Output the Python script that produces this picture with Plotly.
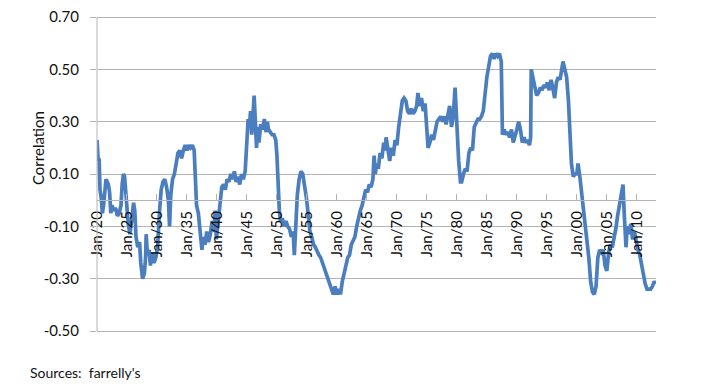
import plotly.graph_objects as go

years = [
    1920.0, 1920.1, 1920.2, 1920.35, 1920.5, 1920.7, 1920.9, 1921.1, 1921.3, 1921.5, 1921.7, 1921.9,
    1922.1, 1922.3, 1922.5, 1922.8, 1923.1, 1923.4, 1923.7, 1924.0, 1924.2, 1924.4, 1924.6, 1924.8,
    1925.0, 1925.2, 1925.5, 1925.8, 1926.1, 1926.3, 1926.5, 1926.8, 1927.1, 1927.3, 1927.6, 1927.9,
    1928.1, 1928.2, 1928.4, 1928.7, 1928.9, 1929.2, 1929.5, 1929.8, 1930.1, 1930.4, 1930.7, 1931.0,
    1931.3, 1931.6, 1931.9, 1932.1, 1932.3, 1932.6, 1932.9, 1933.2, 1933.5, 1933.8, 1934.1, 1934.4,
    1934.7, 1935.0, 1935.3, 1935.6, 1935.9, 1936.2, 1936.4, 1936.6, 1936.9, 1937.1, 1937.3, 1937.5,
    1937.7, 1938.0, 1938.3, 1938.6, 1938.9, 1939.2, 1939.5, 1939.7, 1939.9, 1940.2, 1940.5, 1940.8,
    1941.1, 1941.4, 1941.7, 1942.0, 1942.3, 1942.6, 1942.9, 1943.2, 1943.5, 1943.8, 1944.1, 1944.4,
    1944.7, 1945.0, 1945.2, 1945.4, 1945.6, 1945.8, 1946.0, 1946.2, 1946.4, 1946.6, 1946.8, 1947.0,
    1947.3, 1947.6, 1947.9, 1948.2, 1948.4, 1948.6, 1948.9, 1949.2, 1949.5, 1949.8, 1950.0, 1950.2,
    1950.4, 1950.6, 1950.9, 1951.2, 1951.5, 1951.8, 1952.1, 1952.4, 1952.7, 1952.9, 1953.1, 1953.4,
    1953.7, 1954.0, 1954.3, 1954.6, 1954.9, 1955.2, 1955.5, 1955.8, 1956.1, 1956.4, 1956.7, 1957.0,
    1957.3, 1957.6, 1957.9, 1958.2, 1958.5, 1958.8, 1959.1, 1959.4, 1959.7, 1960.0, 1960.3, 1960.6,
    1960.9, 1961.2, 1961.5, 1961.8, 1962.1, 1962.4, 1962.7, 1963.0, 1963.3, 1963.6, 1963.9, 1964.2,
    1964.5, 1964.8, 1965.1, 1965.4, 1965.7, 1966.0, 1966.2, 1966.4, 1966.6, 1966.9, 1967.2, 1967.5,
    1967.8, 1968.0, 1968.2, 1968.5, 1968.8, 1969.1, 1969.4, 1969.7, 1970.0, 1970.3, 1970.6, 1970.9,
    1971.2, 1971.5, 1971.8, 1972.1, 1972.4, 1972.7, 1973.0, 1973.3, 1973.5, 1973.8, 1974.1, 1974.4,
    1974.7, 1975.0, 1975.2, 1975.5, 1975.8, 1976.1, 1976.4, 1976.7, 1977.0, 1977.3, 1977.6, 1977.9,
    1978.2, 1978.5, 1978.8, 1979.1, 1979.4, 1979.7, 1979.9, 1980.1, 1980.3, 1980.6, 1980.8, 1981.1,
    1981.4, 1981.7, 1982.0, 1982.3, 1982.6, 1982.9, 1983.2, 1983.5, 1983.8, 1984.1, 1984.4, 1984.7,
    1985.0, 1985.3, 1985.6, 1985.9, 1986.2, 1986.5, 1986.8, 1987.1, 1987.4, 1987.6, 1987.9, 1988.2,
    1988.5, 1988.8, 1989.1, 1989.4, 1989.7, 1990.0, 1990.3, 1990.6, 1990.9, 1991.2, 1991.5, 1991.8,
    1992.1, 1992.3, 1992.4, 1992.7, 1993.0, 1993.3, 1993.6, 1993.9, 1994.2, 1994.5, 1994.8, 1995.1,
    1995.4, 1995.7, 1996.0, 1996.3, 1996.6, 1996.9, 1997.2, 1997.5, 1997.7, 1998.0, 1998.3, 1998.6,
    1998.9, 1999.1, 1999.4, 1999.7, 2000.0, 2000.2, 2000.5, 2000.8, 2001.1, 2001.4, 2001.7, 2002.0,
    2002.3, 2002.6, 2002.9, 2003.2, 2003.5, 2003.8, 2004.1, 2004.4, 2004.7, 2005.0, 2005.3, 2005.6,
    2005.9, 2006.2, 2006.5, 2006.8, 2007.1, 2007.4, 2007.7, 2007.9, 2008.2, 2008.4, 2008.7, 2009.0,
    2009.3, 2009.6, 2009.9, 2010.2, 2010.5, 2010.8, 2011.1, 2011.4, 2011.7, 2012.0, 2012.3, 2012.6,
    2012.9, 2013.1,
]

correlation = [
    0.23, 0.19, 0.15, 0.16, 0.04, 0.01, -0.05, -0.02, 0.05, 0.08, 0.07, 0.06,
    0.03, -0.05, -0.02, -0.04, -0.03, -0.06, -0.05, -0.02, 0.06, 0.10, 0.09, 0.02,
    -0.06, -0.09, -0.13, -0.08, -0.01, -0.04, -0.14, -0.18, -0.16, -0.24, -0.30, -0.28,
    -0.22, -0.13, -0.21, -0.19, -0.25, -0.20, -0.24, -0.22, -0.18, -0.05, 0.04, 0.07,
    0.08, 0.05, 0.00, -0.10, 0.02, 0.08, 0.10, 0.14, 0.18, 0.19, 0.16, 0.19,
    0.21, 0.19, 0.21, 0.20, 0.21, 0.19, 0.04, -0.02, -0.05, -0.10, -0.15, -0.19,
    -0.14, -0.17, -0.12, -0.16, -0.13, -0.08, -0.12, -0.04, -0.15, -0.08, 0.00, 0.05,
    0.06, 0.04, 0.08, 0.07, 0.10, 0.08, 0.11, 0.07, 0.09, 0.06, 0.10, 0.08,
    0.11, 0.22, 0.31, 0.28, 0.34, 0.25, 0.33, 0.40, 0.30, 0.20, 0.28, 0.22,
    0.29, 0.27, 0.31, 0.26, 0.30, 0.27, 0.26, 0.25, 0.25, 0.23, 0.17, 0.05,
    -0.04, -0.08, -0.07, -0.10, -0.08, -0.10, -0.11, -0.14, -0.12, -0.21, -0.10, 0.02,
    0.08, 0.11, 0.10, 0.06, 0.01, -0.05, -0.12, -0.14, -0.17, -0.18, -0.20, -0.21,
    -0.22, -0.24, -0.26, -0.28, -0.30, -0.33, -0.35, -0.36, -0.33, -0.36, -0.34, -0.36,
    -0.31, -0.27, -0.25, -0.22, -0.21, -0.17, -0.15, -0.14, -0.10, -0.06, -0.04, -0.02,
    0.02, 0.04, 0.03, 0.06, 0.05, 0.08, 0.17, 0.10, 0.14, 0.12, 0.18, 0.16,
    0.22, 0.19, 0.24, 0.18, 0.15, 0.20, 0.17, 0.23, 0.21, 0.28, 0.33, 0.38,
    0.39, 0.38, 0.34, 0.33, 0.35, 0.33, 0.34, 0.36, 0.41, 0.36, 0.39, 0.34,
    0.37, 0.28, 0.20, 0.22, 0.25, 0.23, 0.26, 0.30, 0.31, 0.32, 0.30, 0.32,
    0.29, 0.33, 0.36, 0.28, 0.32, 0.43, 0.32, 0.25, 0.15, 0.07, 0.07, 0.10,
    0.12, 0.11, 0.18, 0.20, 0.19, 0.28, 0.30, 0.31, 0.31, 0.32, 0.34, 0.41,
    0.47, 0.51, 0.55, 0.56, 0.54, 0.56, 0.55, 0.56, 0.53, 0.25, 0.27, 0.25,
    0.26, 0.24, 0.27, 0.22, 0.24, 0.27, 0.30, 0.27, 0.22, 0.24, 0.22, 0.23,
    0.21, 0.24, 0.50, 0.46, 0.44, 0.40, 0.41, 0.43, 0.42, 0.44, 0.43, 0.45,
    0.42, 0.46, 0.43, 0.39, 0.45, 0.47, 0.46, 0.50, 0.53, 0.50, 0.47, 0.38,
    0.22, 0.14, 0.09, 0.10, 0.10, 0.14, 0.09, 0.03, -0.03, -0.09, -0.15, -0.22,
    -0.31, -0.35, -0.36, -0.33, -0.22, -0.19, -0.20, -0.19, -0.25, -0.27, -0.20, -0.17,
    -0.18, -0.15, -0.11, -0.06, -0.02, 0.03, 0.06, -0.05, -0.18, -0.10, -0.13, -0.09,
    -0.15, -0.12, -0.16, -0.19, -0.21, -0.25, -0.27, -0.32, -0.34, -0.34, -0.34, -0.33,
    -0.31, -0.32,
]

tick_years = [1920, 1925, 1930, 1935, 1940, 1945, 1950, 1955, 1960, 1965,
              1970, 1975, 1980, 1985, 1990, 1995, 2000, 2005, 2010]
tick_labels = ["Jan/%02d" % (y % 100) for y in tick_years]

y_ticks = [-0.50, -0.30, -0.10, 0.10, 0.30, 0.50, 0.70]
y_labels = ["%.2f" % v for v in y_ticks]

y_min, y_max = -0.5, 0.7
grid_col = "#b4b4b4"
font_family = "Lato, 'Open Sans', sans-serif"

# page body has an 8px default margin; size the figure so the gridlines
# 0.70 / -0.50 land at y 17 / 331 and the plot spans x 97..656
fig_w, fig_h = 690, 375
off = 8
grid_top, grid_bot = 17, 331
pad_px = 2
plot_l, plot_r = 97, 656
plot_t, plot_b = grid_top - pad_px, grid_bot + pad_px
pw, ph = plot_r - plot_l, plot_b - plot_t
units_per_px = (y_max - y_min) / (grid_bot - grid_top)
r_lo = y_min - pad_px * units_per_px
r_hi = y_max + pad_px * units_per_px

fig = go.Figure()
fig.add_trace(go.Scatter(
    x=years, y=correlation, mode="lines",
    line=dict(color="#4a7ebf", width=3.7),
    hoverinfo="skip", showlegend=False,
))

fig.update_layout(
    width=fig_w, height=fig_h,
    margin=dict(l=plot_l - off, r=fig_w + off - plot_r, t=plot_t - off,
                b=fig_h + off - plot_b, pad=0),
    paper_bgcolor="white", plot_bgcolor="white",
    font=dict(family=font_family, size=15, color="#222222"),
    xaxis=dict(
        range=[1920, 2013.2],
        tickvals=tick_years, ticktext=tick_labels,
        tickangle=-90,
        ticks="inside", ticklen=6, tickcolor=grid_col, tickwidth=1,
        showgrid=False, zeroline=False,
        showline=True, linecolor=grid_col, linewidth=1,
        anchor="free", position=(0 - r_lo) / (r_hi - r_lo),
        tickfont=dict(size=15, color="#111111"),
        ticklabelstandoff=4,
        ticklabeloverflow="allow",
        automargin=False,
    ),
    yaxis=dict(
        range=[r_lo, r_hi],
        tickvals=y_ticks, ticktext=y_labels,
        showgrid=True, gridcolor=grid_col, gridwidth=1,
        zeroline=False,
        showline=False,
        ticks="outside", ticklen=6, tickcolor=grid_col,
        tickfont=dict(size=15, color="#111111"),
        ticklabelstandoff=8,
        ticklabeloverflow="allow",
        automargin=False,
    ),
    shapes=[
        dict(type="line", xref="paper", yref="y", x0=0, x1=0, y0=y_min, y1=y_max,
             line=dict(color=grid_col, width=1)),
    ],
    annotations=[
        dict(text="Correlation", textangle=-90, xref="paper", yref="paper",
             x=(38 - plot_l) / pw, y=(plot_b - 148) / ph, xanchor="center", yanchor="middle",
             showarrow=False, font=dict(size=15, color="#111111")),
        dict(text="Sources:  farrelly's", xref="paper", yref="paper",
             x=(28 - plot_l) / pw, y=(plot_b - 372) / ph, xanchor="left", yanchor="middle",
             showarrow=False, font=dict(size=14, color="#111111")),
    ],
)

fig.write_html("out.html")
